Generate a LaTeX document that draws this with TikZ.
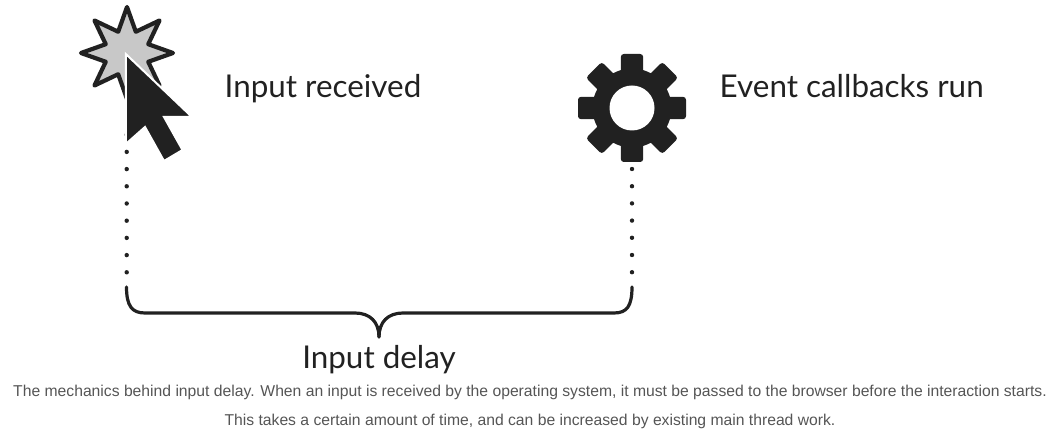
\documentclass[tikz,border=0pt]{standalone}
\usepackage{fontspec}
\setmainfont{Lato}
\newfontfamily\capfont{Liberation Sans}
\definecolor{ink}{HTML}{212121}
\definecolor{starfill}{HTML}{C8C8C8}
\definecolor{captxt}{HTML}{555555}
\tikzset{
  label text/.style={font=\fontsize{31.4}{36}\selectfont, text=ink, inner sep=0pt},
  cap text/.style={font=\capfont\fontsize{15.7}{18}\selectfont, text=captxt, inner sep=0pt},
  dots/.style={ink, line width=4.4pt, line cap=round, dash pattern=on 0pt off 17.2pt},
  bracket/.style={ink, line width=3.2pt, line cap=round},
}
\begin{document}
\begin{tikzpicture}[x=1pt,y=-1pt]
\useasboundingbox (0,0) rectangle (1060,438);
\coordinate (cursor end) at (126.7,134.7);
\coordinate (cursor dots end) at (126.7,272.5);
\coordinate (gear end) at (632,169);
\coordinate (gear dots end) at (632,272.5);
\coordinate (brace left) at (126.5,287);
\coordinate (brace right) at (632,287);
\coordinate (brace tip) at (379,337);
% dotted drops
\draw[dots] (cursor end) -- (cursor dots end);
\draw[dots] (gear end) -- (gear dots end);
% star
\draw[ink, line width=4.2pt, fill=starfill, line join=round]
  (127+46,53) \foreach \a in {0,45,...,315}{ -- ({127+46*cos(\a)},{53+46*sin(\a)}) -- ({127+23*cos(\a+22.5)},{53+23*sin(\a+22.5)}) } -- cycle;
% cursor
\fill[ink, draw=white, line width=2pt, line join=miter]
  (125.8,54) -- (192,117) -- (164,117) -- (182.5,150) -- (164,161) -- (145,127) -- (125.8,144) -- cycle;
% gear
\fill[ink] (632,108) circle (39.5);
\foreach \a in {0,45,...,315}{
  \fill[ink, rotate around={\a:(632,108)}, rounded corners=3pt] (620.8,54) rectangle (643.2,90);
}
\fill[white] (632,108) circle (22.5);
% brace
\draw[bracket] (brace left) .. controls (126.5,306) and (132,313) .. (145,313) -- (355,313) .. controls (370,313) and (379,322) .. (brace tip);
\draw[bracket] (brace right) .. controls (632,306) and (627,313) .. (614,313) -- (403,313) .. controls (388,313) and (379,322) .. (brace tip);
\node[label text, anchor=base west] (received) at (224.5,97.5) {Input received};
\node[label text, anchor=base west] (callbacks) at (719.5,97.5) {Event callbacks run};
\node[label text, anchor=base] (delay) at (379,368.5) {Input delay};
\node[cap text, anchor=base] (cap1) at (530,396) {The mechanics behind input delay. When an input is received by the operating system, it must be passed to the browser before the interaction starts.};
\node[cap text, anchor=base] (cap2) at (530,425) {This takes a certain amount of time, and can be increased by existing main thread work.};
\end{tikzpicture}
\end{document}
